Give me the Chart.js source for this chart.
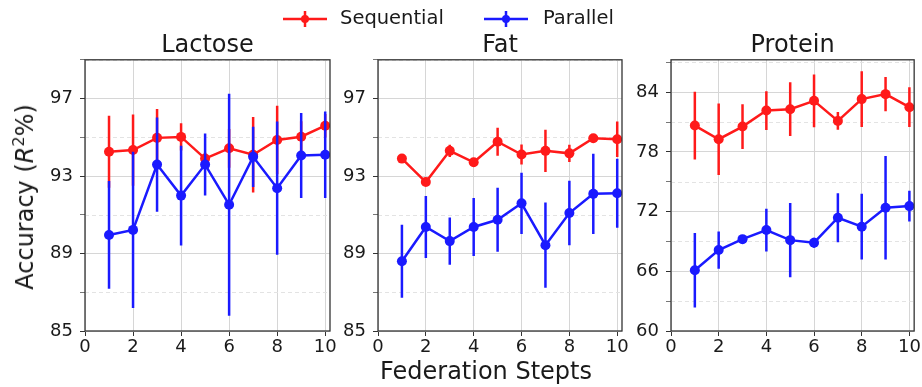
<!DOCTYPE html>
<html>
<head>
<meta charset="utf-8">
<script src="https://cdn.jsdelivr.net/npm/chart.js@4/dist/chart.umd.min.js"></script>
<style>
  body { margin: 0; background: #fff; font-family: "DejaVu Sans", sans-serif; color: #1a1a1a; }
  #wrap { position: relative; width: 922px; height: 387px; overflow: hidden; }
  canvas { position: absolute; top: 0; }
  .lbl { position: absolute; white-space: nowrap; }
  #legend { position: absolute; top: 6px; left: 283px; display: flex; align-items: center; font-size: 19.5px; }
  #legend svg { display: block; }
</style>
</head>
<body>
<div id="wrap">
  <canvas id="c1" width="350" height="387" style="left:0px;width:350px;height:387px"></canvas>
  <canvas id="c2" width="350" height="387" style="left:300px;width:350px;height:387px"></canvas>
  <canvas id="c3" width="322" height="387" style="left:600px;width:322px;height:387px"></canvas>

  <div id="legend">
    <svg width="44" height="20"><line x1="0" y1="11" x2="44" y2="11" stroke="#ff1a1a" stroke-width="2.5"/><line x1="22" y1="3" x2="22" y2="19" stroke="#ff1a1a" stroke-width="2.5"/><circle cx="22" cy="11" r="4" fill="#ff1a1a"/></svg>
    <span style="margin-left:13px">Sequential</span>
    <svg width="44" height="20" style="margin-left:40px"><line x1="0" y1="11" x2="44" y2="11" stroke="#1a1aff" stroke-width="2.5"/><line x1="22" y1="3" x2="22" y2="19" stroke="#1a1aff" stroke-width="2.5"/><circle cx="22" cy="11" r="4" fill="#1a1aff"/></svg>
    <span style="margin-left:15px">Parallel</span>
  </div>

  <div class="lbl" style="left:24px;top:197px;font-size:24px;transform:translate(-50%,-50%) rotate(-90deg)">Accuracy (<i>R</i><sup style="font-size:16px;vertical-align:9px">2</sup>%)</div>
  <div class="lbl" style="left:486px;top:359px;font-size:24px;line-height:24px;transform:translateX(-50%)">Federation Stepts</div>
</div>

<script>
const steps = [1, 2, 3, 4, 5, 6, 7, 8, 9, 10];
const xTicks = [0, 2, 4, 6, 8, 10];

const lactoseSeq = [94.25, 94.34, 94.97, 95.02, 93.90, 94.43, 94.10, 94.86, 95.03, 95.60];
const lactoseSeqErr = [1.86, 1.84, 1.49, 0.70, 0.30, 1.00, 1.95, 1.77, 0.80, 0.60];
const lactosePar = [89.96, 90.22, 93.59, 91.99, 93.59, 91.52, 93.99, 92.37, 94.06, 94.10];
const lactoseParErr = [2.78, 4.03, 2.43, 2.57, 1.60, 5.73, 1.55, 3.44, 2.20, 2.23];

const fatSeq = [93.90, 92.69, 94.30, 93.71, 94.77, 94.11, 94.30, 94.17, 94.95, 94.90];
const fatSeqErr = [0.10, 0.10, 0.32, 0.10, 0.72, 0.52, 1.09, 0.45, 0.10, 0.92];
const fatPar = [88.60, 90.37, 89.64, 90.37, 90.74, 91.59, 89.43, 91.09, 92.08, 92.11];
const fatParErr = [1.88, 1.60, 1.22, 1.50, 1.65, 1.58, 2.20, 1.66, 2.07, 1.78];

const proteinSeq = [80.64, 79.27, 80.54, 82.15, 82.29, 83.13, 81.11, 83.30, 83.80, 82.49];
const proteinSeqErr = [3.40, 3.60, 2.25, 1.95, 2.70, 2.65, 0.90, 2.80, 1.73, 2.00];
const proteinPar = [66.10, 68.13, 69.23, 70.14, 69.13, 68.87, 71.38, 70.48, 72.39, 72.55];
const proteinParErr = [3.74, 1.88, 0.30, 2.15, 3.73, 0.50, 2.45, 3.30, 5.20, 1.55];

const lactoseTicks = [85, 89, 93, 97];
const fatTicks = [85, 89, 93, 97];
const proteinTicks = [60, 66, 72, 78, 84];

const RED = '#ff1a1a';
const BLUE = '#1a1aff';

// error bars are drawn just before their own line so blue sits over red
const errorBars = {
    id: 'errorBars',
    beforeDatasetDraw(chart, args) {
        const ds = chart.data.datasets[args.index];
        const y = chart.scales.y;
        const ctx = chart.ctx;
        ctx.save();
        ctx.beginPath();
        ctx.rect(chart.chartArea.left, chart.chartArea.top, chart.chartArea.width, chart.chartArea.height);
        ctx.clip();
        ctx.strokeStyle = ds.borderColor;
        ctx.lineWidth = 2.5;
        args.meta.data.forEach((pt, i) => {
            const v = ds.data[i].y, e = ds.errors[i];
            ctx.beginPath();
            ctx.moveTo(pt.x, y.getPixelForValue(v + e));
            ctx.lineTo(pt.x, y.getPixelForValue(v - e));
            ctx.stroke();
        });
        ctx.restore();
    }
};

// dashed minor grid lines and the box around the plot
const frame = {
    id: 'frame',
    beforeDatasetsDraw(chart) {
        const { ctx, chartArea: a, scales: { y } } = chart;
        ctx.save();
        ctx.strokeStyle = '#e3e3e3';
        ctx.lineWidth = 1;
        ctx.setLineDash([4, 3]);
        y.ticks.forEach(t => {
            if (chart.options.majorTicks.includes(t.value)) return;
            const py = Math.round(y.getPixelForValue(t.value)) + 0.5;
            ctx.beginPath();
            ctx.moveTo(a.left, py);
            ctx.lineTo(a.right, py);
            ctx.stroke();
        });
        ctx.restore();
    },
    afterDraw(chart) {
        const { ctx, chartArea: a } = chart;
        ctx.save();
        ctx.strokeStyle = '#333';
        ctx.lineWidth = 1.3;
        ctx.strokeRect(a.left, a.top, a.width, a.height);
        ctx.restore();
    }
};

function makePanel(id, title, seq, seqErr, par, parErr, yMin, yMax, yStep, majors, yWidth, padRight) {
    const toPoints = arr => steps.map((x, i) => ({ x: x, y: arr[i] }));
    const line = (label, data, errs, color, order) => ({
        label: label,
        data: toPoints(data),
        errors: errs,
        borderColor: color,
        backgroundColor: color,
        pointBackgroundColor: color,
        borderWidth: 2.5,
        pointRadius: 5,
        pointBorderWidth: 0,
        tension: 0,
        order: order
    });
    return new Chart(document.getElementById(id), {
        type: 'line',
        data: {
            datasets: [
                line('Sequential', seq, seqErr, RED, 1),
                line('Parallel', par, parErr, BLUE, 0)
            ]
        },
        plugins: [errorBars, frame],
        options: {
            responsive: false,
            animation: false,
            majorTicks: majors,
            layout: { padding: { top: 31, left: 0, right: padRight, bottom: 0 } },
            plugins: {
                legend: { display: false },
                tooltip: { enabled: false },
                title: {
                    display: true,
                    text: title,
                    fullSize: false,
                    color: '#1a1a1a',
                    font: { family: 'DejaVu Sans', size: 24, weight: 'normal' },
                    padding: { top: 0, bottom: 0 }
                }
            },
            scales: {
                x: {
                    type: 'linear',
                    min: 0, max: 10.2,
                    afterBuildTicks: s => { s.ticks = xTicks.map(v => ({ value: v })); },
                    afterFit: s => { s.height = 56; },
                    ticks: {
                        color: '#1a1a1a',
                        padding: 1,
                        maxRotation: 0,
                        font: { family: 'DejaVu Sans', size: 18 },
                        callback: v => v
                    },
                    grid: { color: '#d6d6d6', tickColor: '#333', tickLength: 5 },
                    border: { display: false }
                },
                y: {
                    min: yMin, max: yMax,
                    ticks: {
                        stepSize: yStep,
                        includeBounds: false,
                        color: '#1a1a1a',
                        padding: 7,
                        font: { family: 'DejaVu Sans', size: 18 },
                        callback: v => majors.includes(v) ? v : ''
                    },
                    afterFit: s => { s.width = yWidth; },
                    grid: {
                        color: c => majors.includes(c.tick.value) ? '#d6d6d6' : 'rgba(0,0,0,0)',
                        tickColor: c => majors.includes(c.tick.value) ? '#333' : '#777',
                        tickLength: 5
                    },
                    border: { display: false }
                }
            }
        }
    });
}

makePanel('c1', 'Lactose', lactoseSeq, lactoseSeqErr, lactosePar, lactoseParErr, 85, 99, 2, lactoseTicks, 85, 20);
makePanel('c2', 'Fat', fatSeq, fatSeqErr, fatPar, fatParErr, 85, 99, 2, fatTicks, 78, 28);
makePanel('c3', 'Protein', proteinSeq, proteinSeqErr, proteinPar, proteinParErr, 60, 87.25, 3, proteinTicks, 71, 7);
</script>
</body>
</html>
